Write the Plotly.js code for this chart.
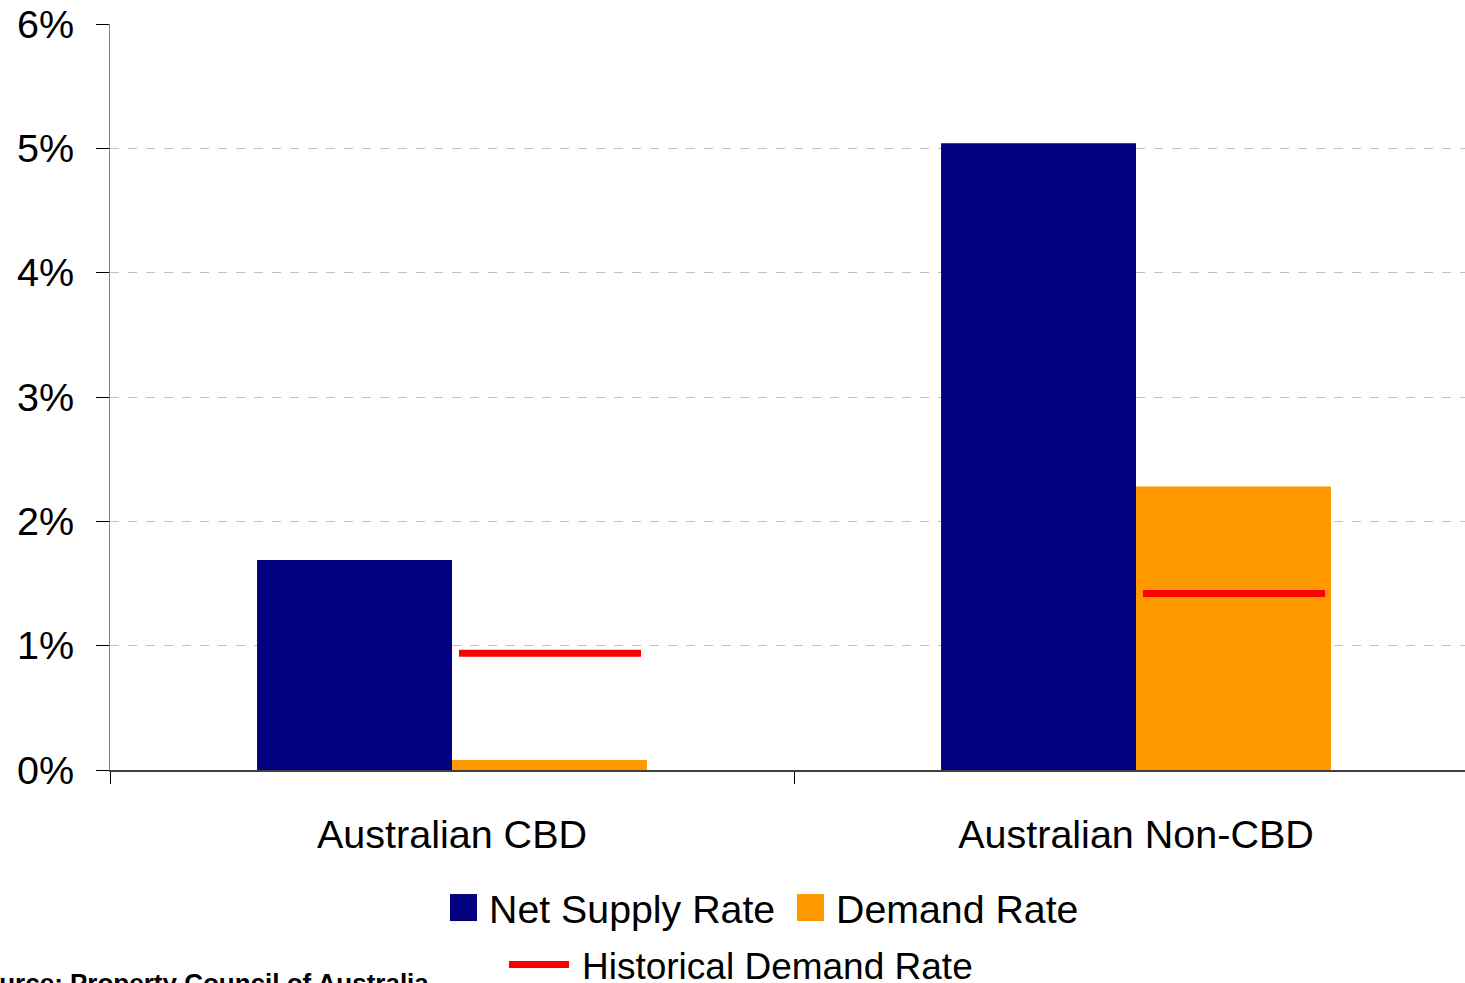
<!DOCTYPE html>
<html>
<head>
<meta charset="utf-8">
<script src="https://cdn.plot.ly/plotly-3.0.1.min.js"></script>
<style>
  html, body { margin: 0; padding: 0; background: #fff; }
  #chart { width: 1465px; height: 983px; }
</style>
</head>
<body>
<div id="chart"></div>
<script>
// ---- data ----
const categories = ["Australian CBD", "Australian Non-CBD"];
const netSupplyRate = [1.69, 5.04];
const demandRate = [0.08, 2.28];
const historicalDemandRate = [0.94, 1.42];
const yTickVals = [0, 1, 2, 3, 4, 5, 6];
const yTickText = ["0%", "1%", "2%", "3%", "4%", "5%", "6%"];
const sourceText = "Source: Property Council of Australia";

// ---- layout constants ----
const W = 1465, H = 983;
const M = { l: 110, r: 0, t: 24, b: 213, autoexpand: false };
const plotW = W - M.l - M.r, plotH = H - M.t - M.b;
const catPx = 684;                       // pixel width of one category
const xMax = -0.5 + plotW / catPx;       // right end of the range
const px2x = p => (p - M.l) / plotW;      // pixel -> paper x
const py2y = p => (H - M.b - p) / plotH;  // pixel -> paper y
const FONT = '"Liberation Sans", Arial, sans-serif';
const AX_FONT = { family: FONT, size: 39.5, color: '#000' };

// historical line spans over the demand bar (offsets in category units)
const hOff0 = 7 / catPx, hOff1 = 189 / catPx;
const histX = [], histY = [];
categories.forEach((c, i) => {
  histX.push(i + hOff0, i + hOff1, null);
  histY.push(historicalDemandRate[i], historicalDemandRate[i], null);
});

const data = [
  { type: 'bar', name: 'Net Supply Rate', x: categories, y: netSupplyRate,
    marker: { color: '#000080' }, legend: 'legend' },
  { type: 'bar', name: 'Demand Rate', x: categories, y: demandRate,
    marker: { color: '#FF9900' }, legend: 'legend3' },
  { type: 'scatter', mode: 'lines', name: 'Historical Demand Rate',
    x: histX, y: histY, xaxis: 'x2', yaxis: 'y',
    line: { color: '#FF0000', width: 7 }, legend: 'legend2' }
];

function legendAt(textX, rowY, size) {
  return {
    orientation: 'h', x: px2x(textX - 40), xanchor: 'left', y: py2y(rowY), yanchor: 'middle',
    font: { family: FONT, size: size, color: '#000' }, bgcolor: 'rgba(0,0,0,0)', borderwidth: 0
  };
}

const layout = {
  width: W, height: H,
  margin: M,
  paper_bgcolor: '#ffffff', plot_bgcolor: '#ffffff',
  font: { family: FONT, size: 39.5, color: '#000' },
  barmode: 'group', bargap: 0.43, bargroupgap: 0,
  showlegend: true,
  xaxis: {
    type: 'category', range: [-0.5, xMax],
    showline: true, linecolor: '#404040', linewidth: 1.5,
    ticks: 'outside', tickson: 'boundaries', ticklen: 12, tickcolor: '#000', tickwidth: 1,
    showgrid: false, zeroline: false,
    ticklabelstandoff: 29,
    tickfont: AX_FONT
  },
  xaxis2: {
    overlaying: 'x', anchor: 'y', type: 'linear', range: [-0.5, xMax],
    visible: false, showgrid: false, zeroline: false
  },
  yaxis: {
    range: [0, 6], tickvals: yTickVals, ticktext: yTickText,
    showline: true, linecolor: '#808080', linewidth: 1,
    ticks: 'outside', ticklen: 13, tickcolor: '#000', tickwidth: 1,
    showgrid: true, gridcolor: '#c0c0c0', griddash: 'dash', gridwidth: 1,
    zeroline: false,
    ticklabelstandoff: 14,
    tickfont: AX_FONT
  },
  legend: legendAt(489, 908, 39.3),
  legend3: legendAt(836, 908, 39.3),
  legend2: legendAt(582, 965, 37),
  annotations: [{
    text: '<b>' + sourceText + '</b>', xref: 'paper', yref: 'paper',
    x: px2x(431), xanchor: 'right', y: py2y(966), yanchor: 'top',
    showarrow: false, font: { family: FONT, size: 26, color: '#000' }
  }]
};

function styleLegend(gd) {
  // let the enlarged symbols extend beyond each legend's clip box
  gd.querySelectorAll('.infolayer g[class*="legend"] [clip-path], .infolayer g[class*="legend"][clip-path]')
    .forEach(e => e.removeAttribute('clip-path'));
  gd.querySelectorAll('g.traces').forEach(tr => {
    const txt = tr.querySelector('text.legendtext');
    let tx = txt ? parseFloat(txt.getAttribute('x')) : 40;
    if (!isFinite(tx)) tx = 40;
    tr.querySelectorAll('.legendlines path').forEach(p => {
      p.setAttribute('d', 'M' + (tx - 13 - 60) + ',0h60');
      p.style.strokeWidth = '7px';
    });
    tr.querySelectorAll('.legendpoints path').forEach(p => {
      const s = 13.5, c = tx - 12 - s - 20;
      p.setAttribute('d', 'M' + (c + s) + ',' + s + 'H' + (c - s) + 'V' + (-s) + 'H' + (c + s) + 'Z');
    });
  });
}

Plotly.newPlot('chart', data, layout, { staticPlot: true, displayModeBar: false }).then(gd => {
  styleLegend(gd);
  setTimeout(() => styleLegend(gd), 50);
});
</script>
</body>
</html>
